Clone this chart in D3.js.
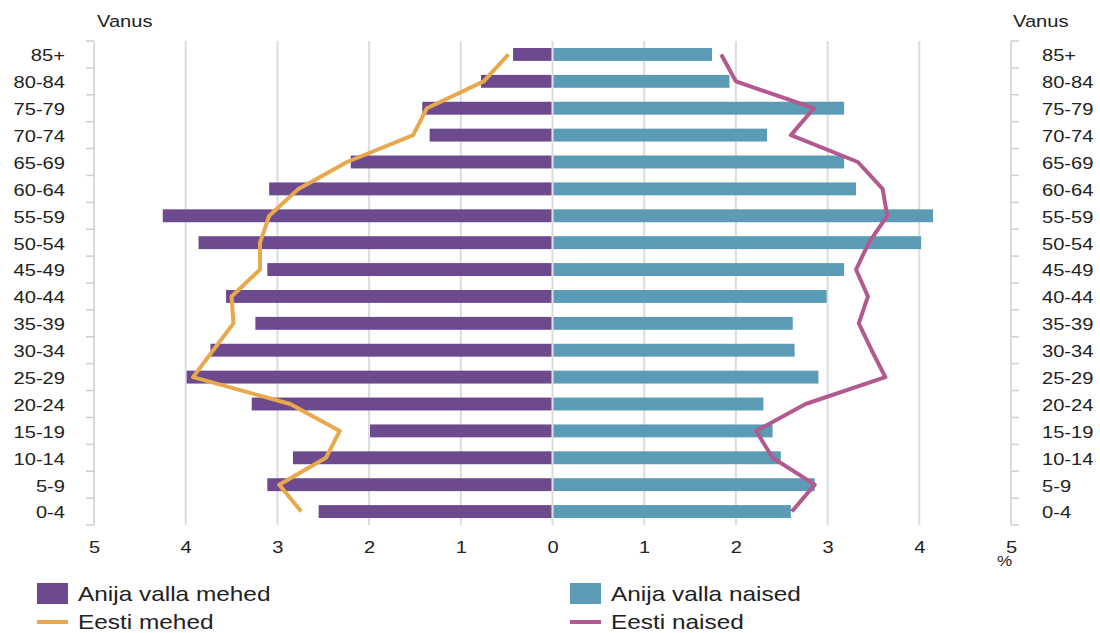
<!DOCTYPE html>
<html lang="et">
<head>
<meta charset="UTF-8">
<title>Anija vald rahvastikupüramiid</title>
<script src="https://cdn.jsdelivr.net/npm/d3@7"></script>
<style>
    body { margin: 0; background: #fff; }
    text { font-family: "Liberation Sans", Arial, sans-serif; fill: #222; }
</style>
</head>
<body>
<script>

    const ages = ["85+", "80-84", "75-79", "70-74", "65-69", "60-64", "55-59", "50-54", "45-49",
        "40-44", "35-39", "30-34", "25-29", "20-24", "15-19", "10-14", "5-9", "0-4"];

    // Anija valla mehed / naised, % of population
    const anijaMehed = [0.43, 0.78, 1.42, 1.34, 2.20, 3.09, 4.25, 3.86, 3.11,
        3.56, 3.24, 3.73, 3.99, 3.28, 1.99, 2.83, 3.11, 2.55];
    const anijaNaised = [1.74, 1.93, 3.18, 2.34, 3.18, 3.31, 4.15, 4.02, 3.18,
        2.99, 2.62, 2.64, 2.90, 2.30, 2.40, 2.49, 2.86, 2.60];

    // Eesti mehed / naised
    const eestiMehed = [0.48, 0.75, 1.37, 1.52, 2.24, 2.77, 3.09, 3.19, 3.19,
        3.50, 3.48, 3.70, 3.92, 2.86, 2.32, 2.47, 2.98, 2.74];
    const eestiNaised = [1.84, 2.00, 2.85, 2.60, 3.33, 3.60, 3.65, 3.45, 3.31,
        3.44, 3.34, 3.48, 3.63, 2.76, 2.22, 2.40, 2.86, 2.61];

    const xTicks = [-5, -4, -3, -2, -1, 0, 1, 2, 3, 4, 5];

    const colMehed = "#6d4a8e";
    const colNaised = "#5b9bb6";
    const colEestiM = "#e8a94c";
    const colEestiN = "#b25a8f";

    const width = 1100, height = 633;
    const plotTop = 41, plotBottom = 525;
    const stretch = "scale(1.22,1)";   // the source text is a bit wide

    const svg = d3.select("body").append("svg")
        .attr("width", width).attr("height", height);

    const x = d3.scaleLinear().domain([-5, 5]).range([94, 1011]);

    const y = d3.scaleBand()
        .domain(ages)
        .range([plotTop, plotBottom])
        .paddingInner(0.52)
        .paddingOuter(0.26);

    const cy = a => y(a) + y.bandwidth() / 2;

    // gridlines
    svg.append("g")
        .selectAll("line")
        .data(xTicks.filter(d => Math.abs(d) < 5))
        .join("line")
        .attr("x1", d => x(d)).attr("x2", d => x(d))
        .attr("y1", plotTop).attr("y2", plotBottom)
        .attr("stroke", "#dcdcdc")
        .attr("stroke-width", 2);

    // bars
    svg.append("g")
        .selectAll("rect")
        .data(ages)
        .join("rect")
        .attr("x", (d, i) => x(-anijaMehed[i]))
        .attr("width", (d, i) => x(0) - 1 - x(-anijaMehed[i]))
        .attr("y", d => y(d))
        .attr("height", y.bandwidth())
        .attr("fill", colMehed);

    svg.append("g")
        .selectAll("rect")
        .data(ages)
        .join("rect")
        .attr("x", x(0) + 1)
        .attr("width", (d, i) => x(anijaNaised[i]) - x(0) - 1)
        .attr("y", d => y(d))
        .attr("height", y.bandwidth())
        .attr("fill", colNaised);

    // Eesti lines
    const line = d3.line()
        .x(d => x(d[1]))
        .y(d => cy(d[0]));

    svg.append("path")
        .datum(ages.map((a, i) => [a, -eestiMehed[i]]))
        .attr("fill", "none")
        .attr("stroke", colEestiM)
        .attr("stroke-width", 4)
        .attr("stroke-linejoin", "round")
        .attr("d", line);

    svg.append("path")
        .datum(ages.map((a, i) => [a, eestiNaised[i]]))
        .attr("fill", "none")
        .attr("stroke", colEestiN)
        .attr("stroke-width", 4)
        .attr("stroke-linejoin", "round")
        .attr("d", line);

    // y axes (labels at centres, ticks at band edges)
    const edges = d3.range(ages.length + 1).map(i => plotTop + i * y.step());

    function ageAxis(xPos, dir) {
        const g = svg.append("g");
        g.append("line")
            .attr("x1", xPos).attr("x2", xPos)
            .attr("y1", plotTop).attr("y2", plotBottom)
            .attr("stroke", "#cfcfcf").attr("stroke-width", 1.5);
        g.selectAll("line.tick")
            .data(edges)
            .join("line")
            .attr("class", "tick")
            .attr("x1", xPos).attr("x2", xPos + dir * 8)
            .attr("y1", d => d).attr("y2", d => d)
            .attr("stroke", "#cfcfcf").attr("stroke-width", 1.5);
        g.selectAll("text")
            .data(ages)
            .join("text")
            .attr("transform", d => `translate(${dir < 0 ? 65 : 1042},${cy(d)}) ${stretch}`)
            .attr("dy", "0.42em")
            .attr("text-anchor", dir < 0 ? "end" : "start")
            .attr("font-size", 16.5)
            .text(d => d);
        g.append("text")
            .attr("transform", `translate(${dir < 0 ? 97 : 1013},27) ${stretch}`)
            .attr("font-size", 16.5)
            .text("Vanus");
    }
    ageAxis(x(-5), -1);
    ageAxis(x(5), 1);

    // x axis labels
    svg.append("g")
        .attr("transform", `translate(0,${plotBottom})`)
        .call(d3.axisBottom(x).tickValues(xTicks).tickSize(0).tickPadding(16)
            .tickFormat(d => Math.abs(d)))
        .call(g => g.select(".domain").remove())
        .call(g => g.selectAll("text")
            .attr("font-size", 16.5)
            .attr("font-family", "Liberation Sans, Arial, sans-serif")
            .attr("fill", "#222")
            .attr("transform", stretch));

    svg.append("text")
        .attr("transform", `translate(997,566) ${stretch}`)
        .attr("font-size", 14)
        .text("%");

    // legend
    const legend = [
        {label: "Anija valla mehed", color: colMehed, type: "rect", lx: 37, ly: 594},
        {label: "Eesti mehed", color: colEestiM, type: "line", lx: 37, ly: 622},
        {label: "Anija valla naised", color: colNaised, type: "rect", lx: 570, ly: 594},
        {label: "Eesti naised", color: colEestiN, type: "line", lx: 570, ly: 622}
    ];

    const lg = svg.append("g").selectAll("g")
        .data(legend)
        .join("g")
        .attr("transform", d => `translate(${d.lx},${d.ly})`);

    lg.filter(d => d.type === "rect").append("rect")
        .attr("x", 0).attr("y", -11)
        .attr("width", 31).attr("height", 21)
        .attr("fill", d => d.color);

    lg.filter(d => d.type === "line").append("line")
        .attr("x1", 0).attr("x2", 31)
        .attr("stroke", d => d.color)
        .attr("stroke-width", 4);

    lg.append("text")
        .attr("transform", `translate(41,0) ${stretch}`)
        .attr("dy", "0.36em")
        .attr("font-size", 20)
        .attr("fill", "#333")
        .text(d => d.label);

</script>
</body>
</html>
